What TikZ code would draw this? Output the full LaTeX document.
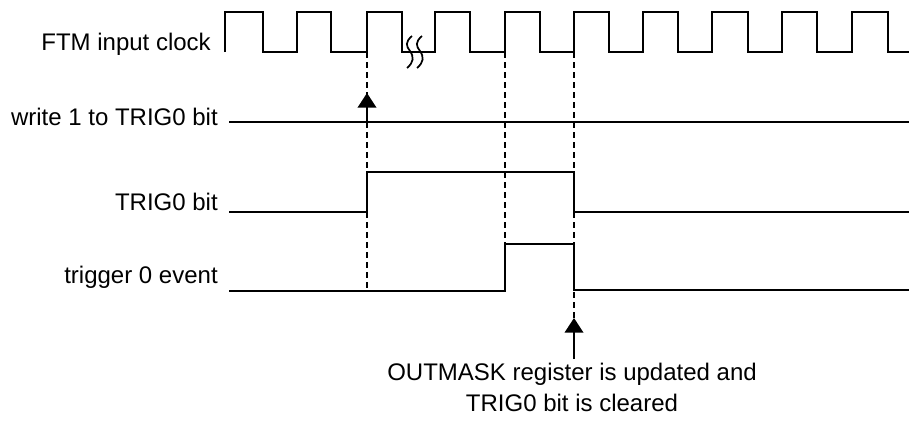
\documentclass[tikz,border=0pt]{standalone}
\usepackage{fontspec}
\setmainfont{Liberation Sans}
\usetikzlibrary{arrows.meta,positioning}

\begin{document}
\begin{tikzpicture}[x=0.75pt, y=-0.75pt, >={Triangle[width=14pt,length=11pt]},
  wave/.style={line width=1.5pt, line join=miter},
  guide/.style={line width=0.8pt, dash pattern=on 4.5pt off 3pt},
  brk/.style={line width=1.3pt},
  lbl/.style={font=\fontsize{18}{23}\selectfont, inner sep=0pt}]
\useasboundingbox (0,0) rectangle (909,422);
% signal names
\node[lbl, anchor=base east] (clk) at (211,50) {FTM input clock};
\node[lbl, anchor=base east] (wr) at (218,125) {write 1 to TRIG0 bit};
\node[lbl, anchor=base east] (trig) at (218,210) {TRIG0 bit};
\node[lbl, anchor=base east] (evt) at (218,283) {trigger 0 event};
% clock
\draw[wave] (225,52) foreach \r/\f in {225/263, 297/331, 367/402, 435/470, 505/540, 574/609, 643/678, 712/748, 782/817, 852/888} { -- (\r,52) -- (\r,12) -- (\f,12) -- (\f,52) } -- (909,52);
\draw[brk] (412,36) .. controls (405,42) and (406,46) .. (410,51) .. controls (414,57) and (414,62) .. (407,68);
\draw[brk] (422,36) .. controls (415,42) and (416,46) .. (420,51) .. controls (424,57) and (424,62) .. (417,68);
\coordinate (c1) at (367,52);
\coordinate (c2) at (505,52);
\coordinate (c3) at (574,52);
% waveforms
\draw[wave] (229,122) -- (909,122);
\draw[wave] (229,212) -- (367,212) -- (367,172) -- (574,172) -- (574,212) -- (909,212);
\draw[wave] (229,291) -- (505,291) -- (505,244) -- (574,244) -- (574,290) -- (909,290);
% guides
\coordinate (g1) at (367,290);
\coordinate (g2) at (505,244);
\coordinate (upd) at (574,318);
\draw[guide] (c1) -- (g1);
\draw[guide] (c2) -- (g2);
\draw[guide] (c3) -- (upd);
% write strobe
\coordinate (w1) at (367,122);
\coordinate (w2) at (367,93);
\draw[->, line width=1.2pt] (w1) -- (w2);
% note
\node[lbl, align=center, anchor=north, inner ysep=3pt] (note) at (572,359) {OUTMASK register is updated and\\TRIG0 bit is cleared};
\draw[->, line width=1.2pt] (note.north -| upd) -- (upd);
\end{tikzpicture}
\end{document}
